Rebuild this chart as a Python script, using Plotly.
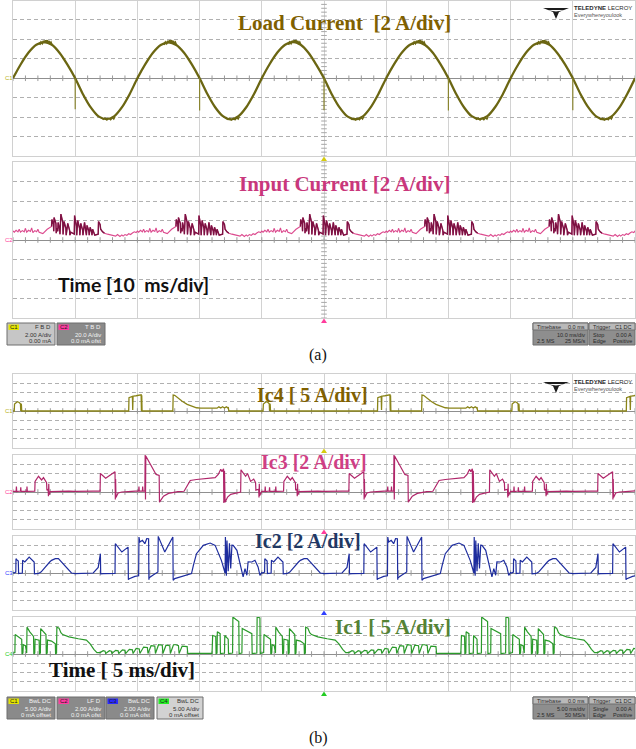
import plotly.graph_objects as go

W, H = 636, 749

# ======================= DATA (read from the captures) =======================
# Times are in screen divisions (0..10), currents in vertical divisions (-4..4).

# ---- (a) 10 ms/div : Load current, 2 A/div ----
LOAD_T = [k * 0.125 for k in range(81)]          # sample instants (div)
LOAD_I = [
    0.00, 0.72, 1.32, 1.72, 1.86, 1.72, 1.30, 0.70, 0.00, -0.82, -1.50, -1.96, -2.10, -1.96, -1.50, -0.82,
    0.00, 0.71, 1.31, 1.71, 1.85, 1.71, 1.31, 0.71, 0.00, -0.81, -1.49, -1.95, -2.12, -1.95, -1.49, -0.81,
    0.00, 0.72, 1.32, 1.72, 1.87, 1.72, 1.31, 0.70, 0.00, -0.82, -1.50, -1.96, -2.11, -1.96, -1.50, -0.81,
    0.00, 0.71, 1.31, 1.71, 1.86, 1.71, 1.31, 0.71, 0.00, -0.81, -1.49, -1.95, -2.10, -1.95, -1.49, -0.82,
    0.00, 0.72, 1.32, 1.72, 1.86, 1.72, 1.30, 0.71, 0.00, -0.82, -1.50, -1.96, -2.12, -1.96, -1.50, -0.81,
    0.00,
]
LOAD_SPIKE_T = [1.0, 3.0, 5.0, 7.0, 9.0]
LOAD_SPIKE_MIN = [-1.60, -1.66, -1.64, -1.66, -1.65]
LOAD_PEAK_T = [0.52, 2.52, 4.52, 6.52, 8.52]
LOAD_PEAK_RIPPLE = [(-0.09, 1.72), (-0.07, 1.86), (-0.05, 1.78), (-0.03, 1.93), (-0.02, 1.82),
                    (0.00, 1.95), (0.01, 1.84), (0.03, 1.96), (0.04, 1.82), (0.06, 1.92),
                    (0.07, 1.78), (0.09, 1.86), (0.11, 1.70)]
LOAD_TROUGH_T = [1.52, 3.52, 5.52, 7.52, 9.52]
LOAD_TROUGH_RIPPLE = [(-0.10, -2.00), (-0.07, -2.12), (-0.04, -2.05), (-0.01, -2.15), (0.02, -2.06),
                      (0.05, -2.14), (0.08, -2.04), (0.10, -2.10), (0.12, -1.98)]

# ---- (a) Input current, 2 A/div : one 20 ms cycle (2 div) = burst + quiet part ----
INPUT_CYCLE_START = [-1.38, 0.62, 2.62, 4.62, 6.62, 8.62]
INPUT_BURST = [(0.00, 0.70), (0.005, 1.05), (0.03, 0.80), (0.035, 0.45), (0.04, 1.15), (0.07, 0.85),
               (0.075, 0.35), (0.08, 0.60), (0.10, 0.45), (0.105, 0.90), (0.13, 0.55), (0.135, 0.30),
               (0.15, 1.33), (0.18, 0.90), (0.185, 0.28), (0.20, 0.95), (0.23, 0.60), (0.235, 0.25),
               (0.26, 0.85), (0.29, 0.50), (0.295, 0.25), (0.31, 0.40), (0.365, 0.30), (0.37, 1.25),
               (0.40, 0.70), (0.405, 0.25), (0.42, 1.00), (0.45, 0.60), (0.455, 0.25), (0.47, 0.85),
               (0.50, 0.50), (0.505, 0.25), (0.53, 0.90), (0.555, 0.50), (0.56, 0.25), (0.57, 0.75),
               (0.60, 0.45), (0.605, 0.25), (0.62, 0.65), (0.645, 0.40), (0.65, 0.25), (0.66, 0.55),
               (0.69, 0.35), (0.695, 0.25), (0.75, 0.30), (0.755, 0.95), (0.78, 0.80), (0.79, 0.55),
               (0.82, 0.42), (0.85, 0.35)]
INPUT_BASE = [(0.85, 0.35), (0.90, 0.30), (0.95, 0.27), (1.00, 0.25), (1.03, 0.20), (1.06, 0.28),
              (1.08, 0.22), (1.10, 0.18), (1.13, 0.26), (1.15, 0.20), (1.18, 0.28), (1.21, 0.24),
              (1.24, 0.32), (1.27, 0.28), (1.30, 0.36), (1.33, 0.42), (1.36, 0.38), (1.38, 0.46),
              (1.40, 0.40), (1.43, 0.50), (1.46, 0.42), (1.48, 0.55), (1.50, 0.40), (1.53, 0.48),
              (1.56, 0.42), (1.58, 0.60), (1.60, 0.40), (1.63, 0.50), (1.66, 0.44), (1.68, 0.62),
              (1.70, 0.38), (1.73, 0.48), (1.76, 0.42), (1.78, 0.55), (1.80, 0.40), (1.83, 0.38),
              (1.86, 0.33), (1.93, 0.55), (2.00, 0.70)]

# ---- (b) 5 ms/div : one 20 ms cycle (4 div) of each capacitor current ----
B_CYCLE_START = [0.0, 4.0, 8.0]
IC4_CYCLE = [(0.00, 0.00), (0.02, 0.00), (0.025, 0.75), (0.05, 0.92), (0.07, 1.00), (0.10, 0.92),
             (0.12, 0.78), (0.125, 0.00), (0.13, 0.80), (0.135, 0.70), (0.14, 0.00), (1.86, 0.00),
             (1.865, 1.45), (1.90, 1.55), (1.92, 1.58), (1.925, 0.10), (1.93, 1.60), (1.98, 1.65),
             (2.05, 1.75), (2.06, 1.75), (2.065, 0.00), (2.07, 1.70), (2.075, 0.00), (2.57, 0.00),
             (2.575, 1.73), (2.60, 1.70), (2.65, 1.42), (2.72, 1.05), (2.80, 0.72), (2.88, 0.48),
             (2.95, 0.35), (3.02, 0.30), (3.10, 0.30), (3.18, 0.34), (3.24, 0.38), (3.28, 0.30),
             (3.31, 0.45), (3.34, 0.32), (3.37, 0.46), (3.40, 0.33), (3.43, 0.45), (3.45, 0.34),
             (3.46, 0.42), (3.47, 0.00), (4.00, 0.00)]
IC3_CYCLE = [(0.00, 0.06), (0.05, 0.08), (0.055, 0.60), (0.06, 0.05), (0.12, 0.10), (0.125, 0.50),
             (0.13, 0.06), (0.22, 0.08), (0.225, 0.60), (0.23, 0.07), (0.35, 0.10), (0.355, 1.15),
             (0.41, 1.70), (0.46, 1.30), (0.49, 1.55), (0.54, 1.00), (0.545, 0.20), (0.565, 0.30),
             (0.57, -0.45), (0.575, 0.90), (0.58, -0.30), (0.60, 0.05), (0.70, 0.08), (0.80, 0.06),
             (0.90, 0.10), (1.00, 0.07), (1.10, 0.10), (1.20, 0.08), (1.30, 0.10), (1.40, 0.10),
             (1.405, 2.00), (1.49, 1.50), (1.64, 2.20), (1.645, -0.80), (1.65, 1.40), (1.655, -0.60),
             (1.69, -0.10), (1.75, 0.00), (1.85, 0.05), (1.95, 0.10), (2.02, 0.12), (2.025, 0.60),
             (2.03, 0.10), (2.08, 0.12), (2.085, 0.60), (2.09, 0.10), (2.12, 0.12), (2.125, 4.00),
             (2.13, -0.80), (2.135, 3.90), (2.30, 1.90), (2.35, 1.80), (2.355, -1.10), (2.42, -0.45),
             (2.50, -0.15), (2.58, -0.03), (2.65, 0.05), (2.75, 0.08), (2.85, 1.25), (2.95, 1.35),
             (3.05, 1.40), (3.15, 1.45), (3.25, 1.55), (3.30, 1.90), (3.34, 2.45), (3.36, 2.20),
             (3.385, 2.50), (3.39, -1.20), (3.40, 2.30), (3.41, -1.10), (3.45, -0.55), (3.50, -0.25),
             (3.60, -0.05), (3.66, 0.00), (3.665, 2.40), (3.74, 1.70), (3.77, 2.00), (3.82, 1.15),
             (3.87, 1.40), (3.90, 1.00), (3.905, 0.20), (3.95, 0.30), (3.955, -0.60), (3.96, 0.90),
             (3.965, -0.40), (4.00, 0.06)]
IC2_CYCLE = [(0.00, 0.05), (0.016, 0.00), (0.045, 0.10), (0.048, 1.55), (0.06, 1.45), (0.085, 1.30),
             (0.09, -0.05), (0.15, 0.00), (0.155, 1.37), (0.19, 1.20), (0.26, 1.73), (0.30, 1.44),
             (0.34, 1.19), (0.345, -0.10), (0.37, -0.07), (0.41, -0.05), (0.45, 0.10), (0.55, 0.94),
             (0.59, 1.19), (0.62, 1.37), (0.68, 1.55), (0.73, 1.55), (0.78, 1.19), (0.86, 0.65),
             (0.94, 0.00), (1.00, -0.07), (1.15, -0.07), (1.29, 0.00), (1.37, 0.60), (1.40, 1.55),
             (1.405, 2.09), (1.41, -0.10), (1.45, -0.07), (1.64, -0.05), (1.645, 3.17), (1.75, 2.27),
             (1.83, 2.74), (1.85, 2.80), (1.855, -0.72), (1.87, -0.61), (1.96, -0.36), (2.02, -0.30),
             (2.025, 3.89), (2.04, 3.35), (2.08, 3.53), (2.12, 3.17), (2.15, 3.71), (2.18, 3.70),
             (2.185, -0.72), (2.19, -0.50), (2.26, -0.20), (2.33, 0.11), (2.335, 3.96), (2.44, 2.27),
             (2.57, 3.90), (2.575, -0.79), (2.60, -0.61), (2.69, -0.43), (2.87, -0.07), (2.90, 0.83),
             (2.95, 2.09), (3.06, 2.99), (3.17, 3.24), (3.25, 2.99), (3.30, 2.27), (3.35, 1.37),
             (3.41, 0.00), (3.415, 3.90), (3.43, -0.30), (3.44, 3.50), (3.46, 0.20), (3.48, 3.20),
             (3.50, 0.50), (3.52, 3.00), (3.54, 2.99), (3.60, 2.45), (3.65, 1.01), (3.70, -0.43),
             (3.73, 0.47), (3.76, -0.25), (3.78, 1.20), (3.84, 1.19), (3.89, 1.37), (3.94, 0.65),
             (3.97, -0.25), (4.00, 0.05)]
IC1_CYCLE = [(0.00, 0.10), (0.03, 0.15), (0.035, 2.10), (0.08, 1.90), (0.14, 1.60), (0.145, 0.00),
             (0.16, 0.10), (0.165, 1.00), (0.20, 0.90), (0.22, 0.10), (0.225, 2.90), (0.27, 2.40),
             (0.33, 1.90), (0.335, 0.00), (0.35, 0.10), (0.355, 1.60), (0.42, 1.50), (0.425, 0.00),
             (0.44, 0.10), (0.445, 2.75), (0.49, 2.40), (0.53, 2.10), (0.535, 0.00), (0.55, 0.10),
             (0.555, 1.50), (0.62, 1.40), (0.68, 1.10), (0.685, 0.00), (0.70, 0.10), (0.705, 2.90),
             (0.74, 2.80), (0.77, 2.30), (0.80, 2.10), (0.90, 1.85), (1.05, 1.65), (1.18, 1.50),
             (1.24, 1.10), (1.30, 0.50), (1.35, 0.15), (1.40, 0.15), (1.45, 0.35), (1.48, 0.30),
             (1.49, 0.05), (1.55, 0.35), (1.58, 0.30), (1.59, 0.05), (1.65, 0.40), (1.69, 0.35),
             (1.70, 0.05), (1.76, 0.45), (1.80, 0.40), (1.81, 0.05), (1.87, 0.50), (1.92, 0.45),
             (1.93, 0.05), (1.98, 0.60), (2.03, 0.55), (2.04, 0.05), (2.10, 0.75), (2.16, 0.70),
             (2.17, 0.05), (2.22, 0.90), (2.28, 0.85), (2.29, 0.05), (2.34, 1.00), (2.40, 0.95),
             (2.41, 0.05), (2.46, 0.95), (2.52, 0.90), (2.53, 0.05), (2.58, 1.00), (2.62, 1.00),
             (2.66, 0.90), (2.67, 0.05), (2.72, 0.85), (2.80, 0.80), (2.81, 0.05), (2.85, 0.07),
             (3.20, 0.07), (3.21, 2.00), (3.26, 1.90), (3.265, 0.05), (3.28, 0.10), (3.285, 2.40),
             (3.33, 2.20), (3.335, 0.05), (3.40, 0.10), (3.405, 2.00), (3.46, 1.60), (3.465, 0.05),
             (3.53, 0.10), (3.535, 4.00), (3.58, 3.75), (3.63, 3.50), (3.635, 0.05), (3.68, 0.10),
             (3.685, 2.75), (3.76, 2.45), (3.84, 2.20), (3.845, 0.05), (3.92, 0.10), (3.925, 4.00),
             (3.97, 3.90), (3.975, 0.05), (4.00, 0.10)]

# ======================= FIGURE =======================
def tile(cycle, starts, gaps=False):
    xs, ys = [], []
    for s in starts:
        for t, v in cycle:
            xs.append(round(s + t, 4))
            ys.append(v)
        if gaps:
            xs.append(None)
            ys.append(None)
    return xs, ys


fig = go.Figure()

# panel geometry: (top px, bottom px)
PANELS = [(0.5, 156), (162, 318), (374, 448), (455, 529), (536, 610), (617, 691)]
layout_axes = {}
for i, (top, bot) in enumerate(PANELS, start=1):
    sfx = '' if i == 1 else str(i)
    layout_axes['xaxis' + sfx] = dict(
        domain=[13 / W, 635 / W], range=[0, 10], dtick=1, tick0=0, anchor='y' + sfx,
        showgrid=True, gridcolor='#d2d2d2', gridwidth=1, griddash='solid',
        showticklabels=False, ticks='', zeroline=False,
        showline=True, mirror=True, linecolor='#d0d0d0', linewidth=1, fixedrange=True)
    layout_axes['yaxis' + sfx] = dict(
        domain=[1 - bot / H, 1 - top / H], range=[-4, 4], dtick=1, tick0=0, anchor='x' + sfx,
        showgrid=True, gridcolor='#b0b0b0', gridwidth=1, griddash='4px,3px',
        showticklabels=False, ticks='', zeroline=True, zerolinecolor='#8f8f8f', zerolinewidth=1,
        showline=True, mirror=True, linecolor='#d0d0d0', linewidth=1, fixedrange=True)


def axes_of(i):
    return ('x' if i == 1 else 'x%d' % i), ('y' if i == 1 else 'y%d' % i)


# centre-line tick marks (decoration of the scope graticule)
TICK_X = [k * 0.2 for k in range(51)]
for i in range(1, 7):
    xa, ya = axes_of(i)
    fig.add_trace(go.Scatter(x=TICK_X, y=[0] * len(TICK_X), xaxis=xa, yaxis=ya, mode='markers',
                             marker=dict(symbol='line-ns', size=4, line=dict(width=1, color='#9a9a9a')),
                             hoverinfo='skip'))
for i in (1, 2):
    xa, ya = axes_of(i)
    ty = [-4 + k * 0.2 for k in range(41)]
    fig.add_trace(go.Scatter(x=[5] * len(ty), y=ty, xaxis=xa, yaxis=ya, mode='markers',
                             marker=dict(symbol='line-ew', size=4, line=dict(width=1, color='#a8a8a8')),
                             hoverinfo='skip'))

LOAD_COLOR = '#6b6612'
# load current
fig.add_trace(go.Scatter(x=LOAD_T, y=LOAD_I, xaxis='x', yaxis='y', mode='lines',
                         line=dict(color=LOAD_COLOR, width=2.3, shape='spline', smoothing=0.8)))
px_, py_ = tile(LOAD_PEAK_RIPPLE, LOAD_PEAK_T, gaps=True)
fig.add_trace(go.Scatter(x=px_, y=py_, xaxis='x', yaxis='y', mode='lines',
                         line=dict(color=LOAD_COLOR, width=1.6)))
tx_, ty_ = tile(LOAD_TROUGH_RIPPLE, LOAD_TROUGH_T, gaps=True)
fig.add_trace(go.Scatter(x=tx_, y=ty_, xaxis='x', yaxis='y', mode='lines',
                         line=dict(color=LOAD_COLOR, width=1.3)))
sx, sy = [], []
for t, m in zip(LOAD_SPIKE_T, LOAD_SPIKE_MIN):
    sx += [t, t, None]
    sy += [0.0, m, None]
fig.add_trace(go.Scatter(x=sx, y=sy, xaxis='x', yaxis='y', mode='lines',
                         line=dict(color='#8a8530', width=1.2)))

# input current
ix, iy = tile(INPUT_BURST + INPUT_BASE, INPUT_CYCLE_START)
fig.add_trace(go.Scatter(x=ix, y=iy, xaxis='x2', yaxis='y2', mode='lines',
                         line=dict(color='#dc4a8e', width=1.1)))
bx, by = tile(INPUT_BURST, INPUT_CYCLE_START, gaps=True)
fig.add_trace(go.Scatter(x=bx, y=by, xaxis='x2', yaxis='y2', mode='lines',
                         line=dict(color='#7c1242', width=1.4)))

# capacitor currents
for i, cyc, col, wid in [(3, IC4_CYCLE, '#8a8418', 1.3), (4, IC3_CYCLE, '#b0266a', 1.2),
                         (5, IC2_CYCLE, '#1d2c9e', 1.2), (6, IC1_CYCLE, '#2a9a2a', 1.2)]:
    xa, ya = axes_of(i)
    cx, cy = tile(cyc, B_CYCLE_START)
    fig.add_trace(go.Scatter(x=cx, y=cy, xaxis=xa, yaxis=ya, mode='lines',
                             line=dict(color=col, width=wid)))


# ---------------- annotations / decorations ----------------
def note(text, x, y, size, color, family='Liberation Serif', xanchor='center'):
    fig.add_annotation(x=x / W, y=1 - y / H, xref='paper', yref='paper', text=text,
                       showarrow=False, xanchor=xanchor, yanchor='middle',
                       font=dict(size=size, color=color, family=family))


def rect(x0, y0, x1, y1, fill, line='#6e6e6e'):
    fig.add_shape(type='rect', xref='paper', yref='paper', x0=x0 / W, x1=x1 / W,
                  y0=1 - y1 / H, y1=1 - y0 / H, fillcolor=fill,
                  line=dict(color=line if line else fill, width=1 if line else 0), layer='above')


def poly(pts, color):
    path = 'M ' + ' L '.join('%.5f,%.5f' % (x / W, 1 - y / H) for x, y in pts) + ' Z'
    fig.add_shape(type='path', path=path, xref='paper', yref='paper', fillcolor=color,
                  line=dict(width=0), layer='above')


note('<b>Load Current\u00a0 [2 A/div]</b>', 344, 23, 21, '#7f6000')
note('<b>Input Current [2 A/div]</b>', 344, 184, 21, '#c9377c')
note('<b>Time [10\u00a0 ms/div]</b>', 133, 284, 19.5, '#111111', family='Lato')
note('(a)', 318, 355, 16, '#111111')
note('<b>Ic4 [ 5 A/div]</b>', 312, 395, 20, '#7f6000')
note('<b>Ic3 [2 A/div]</b>', 314, 462, 20, '#cf3f85')
note('<b>Ic2 [2 A/div]</b>', 308, 541, 20, '#1f3864')
note('<b>Ic1 [ 5 A/div]</b>', 393, 627, 21, '#548235')
note('<b>Time [ 5 ms/div]</b>', 122, 670, 21, '#111111')
note('(b)', 318, 738, 16, '#111111')

# left ground-level tags
for yy, lab, col in [(78, 'C1', '#b8b020'), (240, 'C2', '#ff3c9c'), (411, 'C1', '#b8b020'),
                     (492, 'C2', '#ff3c9c'), (573, 'C3', '#3040ff'), (654, 'C4', '#22cc22')]:
    note(lab, 9, yy, 6, col, family='Liberation Sans')

# trigger / position markers under each grid at the centre line
for yy, col in [(156, '#d6cc10'), (318, '#ff3c9c'), (448, '#d6cc10'), (529, '#ff3c9c'),
                (610, '#3040ff'), (691, '#22cc22')]:
    poly([(324, yy + 0.5), (327, yy + 5), (321, yy + 5)], col)

# Teledyne LeCroy logos
for dy in (0, 374):
    poly([(543, 8 + dy), (569, 8 + dy), (559, 12 + dy), (556, 19 + dy), (553, 12 + dy)], '#1c1c1c')
    poly([(546, 10 + dy), (566, 10 + dy), (556, 11.5 + dy)], '#ffffff')
    note('<b>TELEDYNE</b> LECROY', 572, 8 + dy, 6, '#2a2a2a', family='Liberation Sans', xanchor='left')
    note('Everywhereyoulook', 572, 15 + dy, 5.5, '#555555', family='Liberation Sans', xanchor='left')


SANS = 'Liberation Sans'


def chan_box(x0, y0, x1, y1, fill, tag, tag_col, head, l1, l2, dark):
    tc = '#f2f2f2' if dark else '#333333'
    rect(x0, y0, x1, y1, fill)
    rect(x0 + 1.5, y0 + 1.5, x0 + 12, y0 + 7, tag_col, line=None)
    note(tag, x0 + 6.7, y0 + 4.3, 6, '#222222', family=SANS)
    note(head, x1 - 2, y0 + 4.3, 6, tc, family=SANS, xanchor='right')
    note(l1, x1 - 2, y0 + 11.5, 6, tc, family=SANS, xanchor='right')
    note(l2, x1 - 2, y0 + 17.5, 6, tc, family=SANS, xanchor='right')


def info_box(x0, y0, x1, y1, h_l, h_r, a_l, a_r, b_l, b_r):
    rect(x0, y0, x1, y1, '#8e8e8e')
    rect(x0, y0, x1, y0 + 7, '#b9b9b9')
    for (yy, l, r) in [(y0 + 4, h_l, h_r), (y0 + 11.5, a_l, a_r), (y0 + 17.5, b_l, b_r)]:
        if l:
            note(l, x0 + 1.5, yy, 5.5, '#2a2a2a', family=SANS, xanchor='left')
        if r:
            note(r, x1 - 1.5, yy, 5.5, '#2a2a2a', family=SANS, xanchor='right')


# status bar (a)
chan_box(7, 323, 55, 345, '#c6c6c6', 'C1', '#e4e400', 'F B D', '2.00 A/div', '0.00 mA', False)
chan_box(57, 323, 105, 345, '#8a8a8a', 'C2', '#ff3ca0', 'T B D', '20.0 A/div', '0.0 mA ofst', True)
info_box(533, 323, 588, 345, 'Timebase', '0.0 ms', '', '10.0 ms/div', '2.5 MS', '25 MS/s')
info_box(589, 323, 635, 345, 'Trigger', 'C1 DC', 'Stop', '0.00 A', 'Edge', 'Positive')

# status bar (b)
chan_box(7, 697, 55, 719, '#8a8a8a', 'C1', '#e4e400', 'BwL DC', '5.00 A/div', '0 mA offset', True)
chan_box(57, 697, 105, 719, '#8a8a8a', 'C2', '#ff3ca0', 'LF D', '2.00 A/div', '0.0 mA ofst', True)
chan_box(106, 697, 154, 719, '#8a8a8a', 'C3', '#2a2aff', 'BwL DC', '2.00 A/div', '0.0 mA ofst', True)
chan_box(157, 697, 203, 719, '#d2d2d2', 'C4', '#22ee22', 'BwL DC', '5.00 A/div', '0 mA offset', False)
info_box(533, 697, 588, 719, 'Timebase', '0.0 ms', '', '5.00 ms/div', '2.5 MS', '50 MS/s')
info_box(589, 697, 635, 719, 'Trigger', 'C1 DC', 'Single', '0.00 A', 'Edge', 'Positive')

fig.update_layout(
    width=W, height=H, autosize=False,
    margin=dict(l=0, r=0, t=0, b=0),
    paper_bgcolor='white', plot_bgcolor='white',
    showlegend=False, hovermode=False,
    **layout_axes,
)

fig.write_html('out.html', config={'displayModeBar': False, 'staticPlot': True},
               post_script="document.body.style.margin='0px';document.body.style.padding='0px';")
